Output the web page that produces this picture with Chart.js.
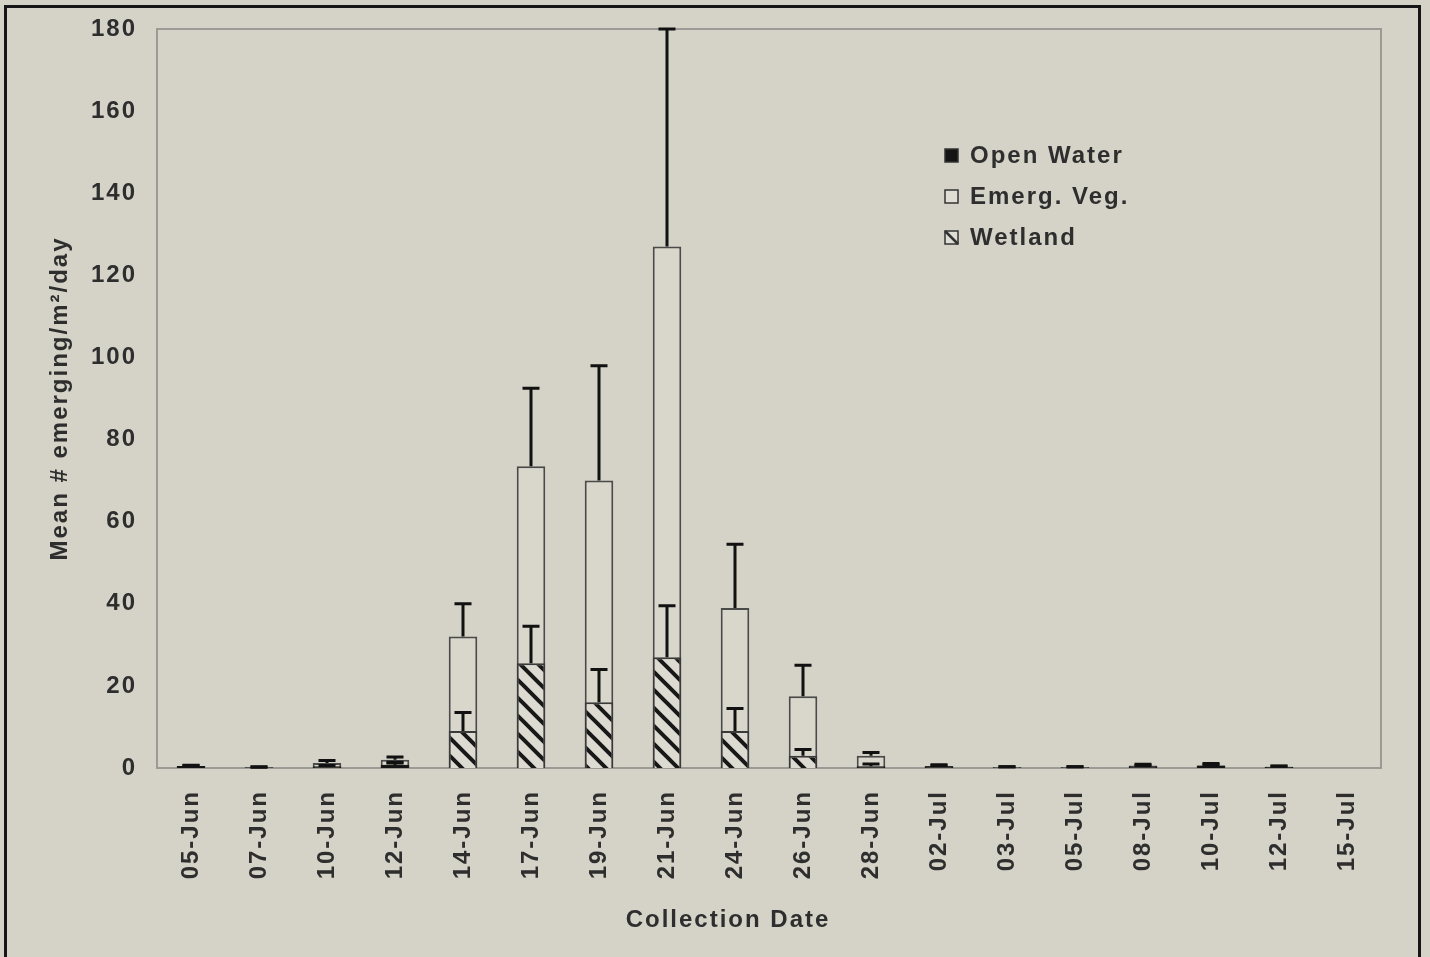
<!DOCTYPE html>
<html>
<head>
<meta charset="utf-8">
<script src="https://cdn.jsdelivr.net/npm/chart.js@4.4.0/dist/chart.umd.min.js"></script>
<style>
  html, body { margin: 0; padding: 0; background: #d5d3c7; overflow: hidden; }
  #wrap { position: relative; width: 1430px; height: 957px; overflow: hidden; }
  #frame { position: absolute; left: 4px; top: 5px; width: 1411px; height: 990px; border: 3px solid #161616; }
  canvas { position: absolute; left: 0; top: 0; }
</style>
</head>
<body>
<div id="wrap">
  <div id="frame"></div>
  <canvas id="emergence-chart" width="1430" height="957"></canvas>
</div>
<script>
// Collection dates (x categories)
const dates = ['05-Jun', '07-Jun', '10-Jun', '12-Jun', '14-Jun', '17-Jun', '19-Jun', '21-Jun', '24-Jun',
    '26-Jun', '28-Jun', '02-Jul', '03-Jul', '05-Jul', '08-Jul', '10-Jul', '12-Jul', '15-Jul'];

// Mean # emerging per m2 per day, and top of the error bar (mean + SE)
const openWater    = [0.5, 0.2, 0.4, 0.8, 0, 0, 0, 0, 0, 0, 0.4, 0.4, 0.2, 0.2, 0.4, 0.5, 0.3, 0];
const openWaterErr = [0.7, 0.3, 0.6, 1.2, 0, 0, 0, 0, 0, 0, 1.0, 0.6, 0.3, 0.3, 0.6, 0.8, 0.4, 0];
const emergVeg     = [0.3, 0.1, 1.2, 2.0, 32, 73.5, 70, 127, 39, 17.5, 3, 0.5, 0.2, 0.2, 0.6, 0.7, 0.3, 0];
const emergVegErr  = [0.6, 0.2, 1.8, 2.7, 40, 92.5, 98, 180, 54.5, 25, 3.8, 0.8, 0.3, 0.3, 0.9, 1.1, 0.5, 0];
const wetland      = [0, 0, 0, 0.8, 9, 25.5, 16, 27, 9, 3, 0, 0, 0, 0, 0, 0, 0, 0];
const wetlandErr   = [0, 0, 0, 1.4, 13.5, 34.5, 24, 39.5, 14.5, 4.5, 0, 0, 0, 0, 0, 0, 0, 0];

const yTicks = [0, 20, 40, 60, 80, 100, 120, 140, 160, 180];
const xTitle = 'Collection Date';

const textColor = '#2e2e2e';
const fontFamily = 'Liberation Sans, Arial, sans-serif';
const spacing = '2px';

const ctx = document.getElementById('emergence-chart').getContext('2d');

// diagonal hatch for the wetland bars
function makeHatch() {
    const size = 18;
    const c = document.createElement('canvas');
    c.width = size;
    c.height = size;
    const p = c.getContext('2d');
    p.fillStyle = '#dddbd1';
    p.fillRect(0, 0, size, size);
    p.strokeStyle = '#181818';
    p.lineWidth = 4;
    p.beginPath();
    p.moveTo(-5, -5); p.lineTo(size + 5, size + 5);
    p.moveTo(-5, size - 5); p.lineTo(5, size + 5);
    p.moveTo(size - 5, -5); p.lineTo(size + 5, 5);
    p.stroke();
    return ctx.createPattern(c, 'repeat');
}
const hatch = makeHatch();

// letter spacing for the scanned-looking text
const spacingPlugin = {
    id: 'spacing',
    beforeUpdate(chart) { chart.ctx.letterSpacing = spacing; },
    beforeDraw(chart) { chart.ctx.letterSpacing = spacing; },
};

// grey frame round the plot area
const framePlugin = {
    id: 'plotFrame',
    beforeDatasetsDraw(chart) {
        const { ctx, chartArea: a } = chart;
        ctx.save();
        ctx.strokeStyle = '#9b9a94';
        ctx.lineWidth = 2;
        ctx.strokeRect(a.left, a.top, a.right - a.left, a.bottom - a.top);
        ctx.restore();
    },
};

// upper error bars
const errorBarPlugin = {
    id: 'errorBars',
    afterDatasetsDraw(chart) {
        const { ctx } = chart;
        const y = chart.scales.y;
        ctx.save();
        ctx.strokeStyle = '#111';
        ctx.lineWidth = 3;
        chart.data.datasets.forEach((ds, di) => {
            const meta = chart.getDatasetMeta(di);
            ds.errTop.forEach((top, i) => {
                if (!top || top <= ds.data[i]) return;
                const bar = meta.data[i];
                const y0 = y.getPixelForValue(ds.data[i]);
                const y1 = y.getPixelForValue(top);
                ctx.beginPath();
                ctx.moveTo(bar.x, y0);
                ctx.lineTo(bar.x, y1);
                ctx.moveTo(bar.x - 8.5, y1);
                ctx.lineTo(bar.x + 8.5, y1);
                ctx.stroke();
            });
        });
        ctx.restore();
    },
};

// legend inside the plot, one item per row, plus the x axis title (sits left of centre)
const legendPlugin = {
    id: 'innerLegend',
    afterDraw(chart) {
        const { ctx, chartArea: a } = chart;
        const x = a.left + 788;
        let yy = a.top + 126;
        ctx.save();
        ctx.letterSpacing = spacing;
        ctx.font = 'bold 24px ' + fontFamily;
        ctx.textBaseline = 'middle';
        chart.data.datasets.forEach(ds => {
            ctx.fillStyle = ds.legendFill;
            ctx.fillRect(x, yy - 6, 13, 13);
            ctx.strokeStyle = '#333';
            ctx.lineWidth = 1.5;
            ctx.strokeRect(x, yy - 6, 13, 13);
            if (ds.label === 'Wetland') {
                ctx.lineWidth = 2.5;
                ctx.beginPath();
                ctx.moveTo(x, yy - 6);
                ctx.lineTo(x + 13, yy + 7);
                ctx.stroke();
            }
            ctx.fillStyle = textColor;
            ctx.fillText(ds.label, x + 25, yy + 1);
            yy += 41;
        });
        ctx.textAlign = 'center';
        ctx.fillText(xTitle, a.left + 571, a.bottom + 152);
        ctx.restore();
    },
};

new Chart(ctx, {
    type: 'bar',
    data: {
        labels: dates,
        datasets: [
            {
                label: 'Open Water',
                data: openWater,
                errTop: openWaterErr,
                backgroundColor: '#141414',
                borderColor: '#141414',
                borderWidth: 1,
                legendFill: '#141414',
                order: 1,
            },
            {
                label: 'Emerg. Veg.',
                data: emergVeg,
                errTop: emergVegErr,
                backgroundColor: '#d9d7cc',
                borderColor: '#4a4a4a',
                borderWidth: 2,
                legendFill: '#dfddd4',
                order: 3,
            },
            {
                label: 'Wetland',
                data: wetland,
                errTop: wetlandErr,
                backgroundColor: hatch,
                borderColor: '#3a3a3a',
                borderWidth: 2,
                legendFill: '#dfddd4',
                order: 2,
            },
        ],
    },
    options: {
        responsive: false,
        animation: false,
        layout: {
            padding: { left: 0, top: 29, right: 49, bottom: 0 },
        },
        datasets: {
            bar: {
                grouped: false,
                categoryPercentage: 1,
                barPercentage: 0.42,
            },
        },
        plugins: {
            legend: { display: false },
            tooltip: { enabled: false },
        },
        scales: {
            x: {
                grid: { display: false, drawTicks: false },
                border: { display: true, color: '#9b9a94', width: 2 },
                ticks: {
                    color: textColor,
                    font: { family: fontFamily, size: 24, weight: 'bold' },
                    minRotation: 90,
                    maxRotation: 90,
                    padding: 22,
                },
                afterFit(scale) { scale.height = 189; },
            },
            y: {
                min: 0,
                max: 180,
                afterBuildTicks(scale) { scale.ticks = yTicks.map(v => ({ value: v })); },
                grid: { display: false, drawTicks: false },
                border: { display: true, color: '#9b9a94', width: 2 },
                ticks: {
                    color: textColor,
                    font: { family: fontFamily, size: 24, weight: 'bold', lineHeight: 0.7 },
                    padding: 20,
                },
                title: {
                    display: true,
                    text: 'Mean # emerging/m²/day',
                    color: textColor,
                    font: { family: fontFamily, size: 24, weight: 'bold' },
                    padding: { top: 46, bottom: 0 },
                },
                afterFit(scale) { scale.width = 157; },
            },
        },
    },
    plugins: [spacingPlugin, framePlugin, errorBarPlugin, legendPlugin],
});
</script>
</body>
</html>
